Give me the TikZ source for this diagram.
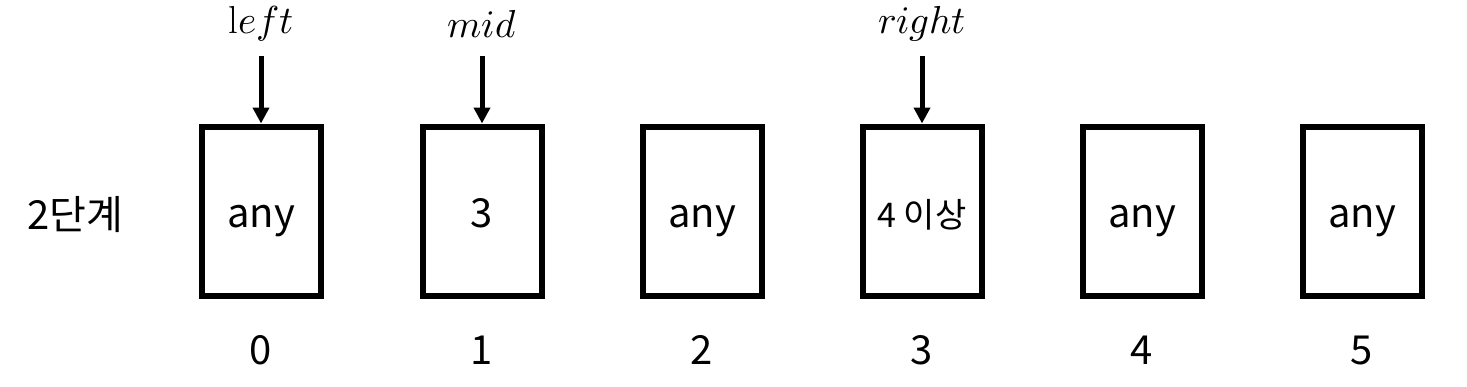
\documentclass[tikz,border=0pt]{standalone}
\usepackage{fontspec}
\usepackage{unicode-math}
\setmainfont{Noto Sans CJK KR}
\setmathfont{Latin Modern Math}
\setmathrm{Latin Modern Roman}
\usetikzlibrary{arrows.meta}

\begin{document}
\begin{tikzpicture}[x=0.5pt,y=-0.5pt,
  cell/.style={draw,line width=3pt,minimum width=59.5pt,minimum height=84.5pt,
    inner sep=0pt,text height=16.5pt,text depth=0pt,font=\fontsize{20}{24}\selectfont},
  idx/.style={text height=15pt,text depth=0pt,font=\fontsize{20}{24}\selectfont},
  ptr/.style={font=\fontsize{19.5}{22}\selectfont},
  pointer/.style={line width=2.5pt,-{Triangle[length=8pt,width=8pt]}}]
  %
  \useasboundingbox (0,0) rectangle (1467,386);
  %
  \node[idx] (step) at (75,214) {2단계};
  %
  \node[cell] (c0) at (261,211) {any};
  \node[cell] (c1) at (482,211) {3};
  \node[cell] (c2) at (702,211) {any};
  \node[cell,font=\fontsize{17}{20}\selectfont] (c3) at (922,211) {4 이상};
  \node[cell] (c4) at (1142,211) {any};
  \node[cell] (c5) at (1362,211) {any};
  %
  \node[idx] (i0) at (261,349) {0};
  \node[idx] (i1) at (482,349) {1};
  \node[idx] (i2) at (702,349) {2};
  \node[idx] (i3) at (922,349) {3};
  \node[idx] (i4) at (1142,349) {4};
  \node[idx] (i5) at (1362,349) {5};
  %
  \node[ptr] (left) at (261,24) {$\mathrm{l}eft$};
  \node[ptr] (mid) at (482,24) {$mid$};
  \node[ptr] (right) at (922,24) {$right$};
  %
  \coordinate (l0) at (261,56);
  \coordinate (m0) at (482,56);
  \coordinate (r0) at (922,56);
  \draw[pointer] (l0) -- (c0.north);
  \draw[pointer] (m0) -- (c1.north);
  \draw[pointer] (r0) -- (c3.north);
  %
\end{tikzpicture}
\end{document}
